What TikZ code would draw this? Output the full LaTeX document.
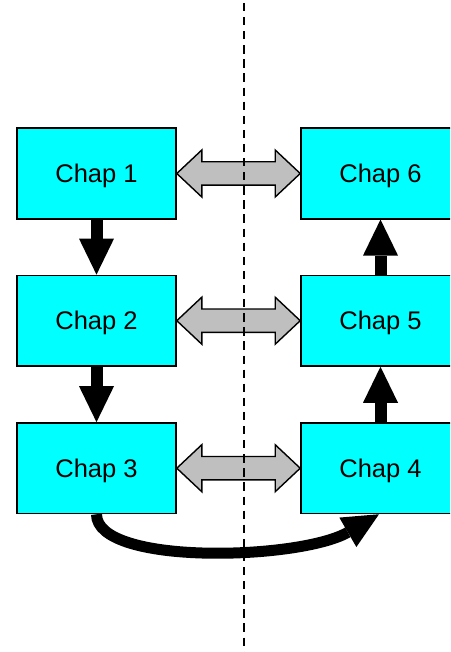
\documentclass[tikz,border=0pt]{standalone}
\usepackage{fontspec}
\setmainfont{Liberation Sans}
\usetikzlibrary{arrows.meta,calc}
\definecolor{boxcyan}{RGB}{0,255,255}
\definecolor{dblgray}{RGB}{191,191,191}
\tikzset{
  chapbox/.style={draw=black,line width=1.6pt,fill=boxcyan,minimum width=159pt,minimum height=90.5pt,inner sep=0pt,text height=18.2pt,text depth=0pt,font=\fontsize{25.5pt}{29pt}\selectfont},
  flowarrow/.style={line width=12pt,-{Triangle[length=36pt,width=35pt,line width=0pt]}},
  dblarrow/.style={draw=black,line width=1.4pt,fill=dblgray,line join=miter},
  divider/.style={line width=2pt,dash pattern=on 8.3pt off 5.8pt}
}
\begin{document}
\begin{tikzpicture}[x=1pt,y=-1pt]
\useasboundingbox (0,0) rectangle (450,652);
\clip (0,0) rectangle (450,652);
\node[chapbox] (c1) at (96.5,173.5) {Chap 1};
\node[chapbox] (c2) at (96.5,320.7) {Chap 2};
\node[chapbox] (c3) at (96.5,468.2) {Chap 3};
\node[chapbox] (c6) at (380.5,173.5) {Chap 6};
\node[chapbox] (c5) at (380.5,320.7) {Chap 5};
\node[chapbox] (c4) at (380.5,468.2) {Chap 4};
% double arrows
\foreach \a/\b in {c1/c6,c2/c5,c3/c4}{
  \draw[dblarrow] (\a.east) -- ($(\a.east)+(25,-23.5)$) -- ($(\a.east)+(25,-11.7)$)
    -- ($(\b.west)+(-25,-11.7)$) -- ($(\b.west)+(-25,-23.5)$) -- (\b.west)
    -- ($(\b.west)+(-25,23.5)$) -- ($(\b.west)+(-25,11.7)$)
    -- ($(\a.east)+(25,11.7)$) -- ($(\a.east)+(25,23.5)$) -- cycle;
}
% vertical arrows
\draw[flowarrow] (c1.south) -- (c2.north);
\draw[flowarrow] (c2.south) -- (c3.north);
\draw[flowarrow] (c4.north) -- (c5.south);
\draw[flowarrow] (c5.north) -- (c6.south);
% curved arrow
\draw[line width=11pt,-{Triangle[length=36pt,width=34pt,line width=0pt]}]
  (c3.south) .. controls (96.5,566) and (300,560) .. ($(c4.south)+(-1.5,0)$);
% divider
\coordinate (dtop) at (244.3,3);
\coordinate (dbot) at (244.3,652);
\draw[divider] (dtop) -- (dbot);
\end{tikzpicture}
\end{document}
